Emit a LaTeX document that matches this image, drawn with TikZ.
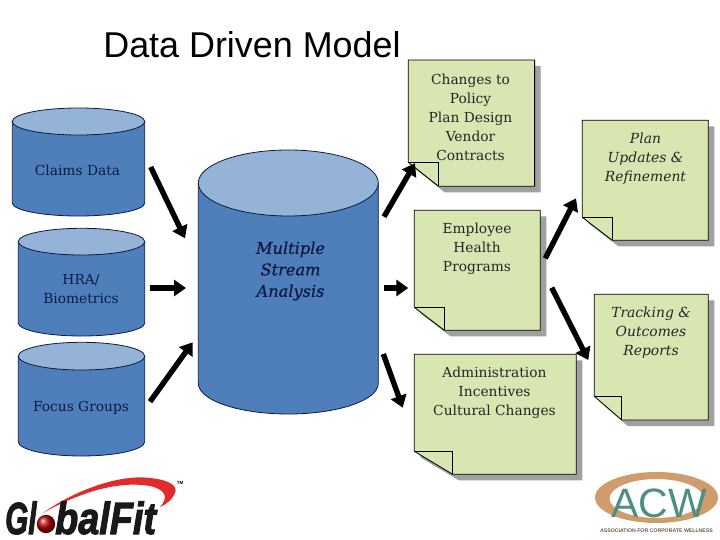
\documentclass[tikz,border=0pt]{standalone}
\usepackage{fontspec}
\setmainfont{DejaVu Serif}
\newfontfamily\titlefont{Liberation Sans}
\newfontfamily\streamfont[ItalicFeatures={FakeBold=0.6}]{DejaVu Serif}
\newfontfamily\logofont[FakeBold=2.5]{Liberation Sans Bold Italic}
\usetikzlibrary{arrows.meta}
\definecolor{cylbody}{HTML}{4F7FBA}
\definecolor{cyltop}{HTML}{95B3D7}
\definecolor{cylline}{HTML}{0B1A45}
\definecolor{notefill}{HTML}{D8E6B2}
\definecolor{noteshadow}{HTML}{A0A0A0}
\definecolor{swoosh}{HTML}{E12B2B}
\definecolor{acwtan}{HTML}{CF9C6C}
\definecolor{acwteal}{HTML}{4E8F80}
\definecolor{acwsmall}{HTML}{6E5A48}
\tikzset{
  x=1pt,y=-1pt,
  flow/.style={line width=5.4pt,-{Triangle[length=12pt,width=16pt]},black},
  labeltext/.style={align=center,font=\fontsize{13.8}{19}\selectfont,inner sep=0pt,text=black!85},
  cyltext/.style={labeltext,text=cylline},
  cylsurface/.style={draw=cylline,line width=0.8pt},
  notesurface/.style={draw=black,line width=0.8pt,fill=notefill},
  logotext/.style={font=\logofont\fontsize{28}{28}\selectfont,inner sep=0pt,anchor=base west,text=black!90},
}
% x0 x1 ytop ellbottom sidebottom bottom
\newcommand{\cylshape}[6]{%
  \pgfmathsetmacro{\cx}{(#1+#2)/2}%
  \pgfmathsetmacro{\rx}{(#2-#1)/2}%
  \pgfmathsetmacro{\ky}{0.5523*(#6-#5)}%
  \pgfmathsetmacro{\kx}{0.5523*\rx}%
  \pgfmathsetmacro{\cy}{(#3+#4)/2}%
  \pgfmathsetmacro{\ry}{(#4-#3)/2}%
  \draw[cylsurface,fill=cylbody] (#1,\cy) -- (#1,#5)
    .. controls (#1,#5+\ky) and (\cx-\kx,#6) .. (\cx,#6)
    .. controls (\cx+\kx,#6) and (#2,#5+\ky) .. (#2,#5) -- (#2,\cy) -- cycle;
  \draw[cylsurface,fill=cyltop] (\cx,\cy) ellipse[x radius=\rx pt,y radius=\ry pt];
}
% x0 y0 x1 y1 foldx foldy
\newcommand{\noteshape}[6]{%
  \fill[noteshadow] (#1+6,#2+6) -- (#3+6,#2+6) -- (#3+6,#4+6) -- (#5+6,#4+6) -- (#1+6,#6+6) -- cycle;
  \draw[notesurface] (#1,#2) -- (#3,#2) -- (#3,#4) -- (#5,#4) -- (#1,#6) -- cycle;
  \draw[black,line width=0.8pt] (#1,#6) -- (#5,#6) -- (#5,#4);
}
\begin{document}
\begin{tikzpicture}
\useasboundingbox[fill=white] (0,0) rectangle (720,540);

\node[font=\titlefont\fontsize{35.9}{40}\selectfont,inner sep=0pt] (title) at (252,45) {Data Driven Model};

\cylshape{12.3}{144.7}{108}{135}{203}{216}
\cylshape{18.3}{144.7}{228.3}{255}{323}{336}
\cylshape{18.3}{144.7}{342.3}{370}{441.7}{456}
\cylshape{198.3}{378.3}{150}{216}{383.3}{414}

\node[cyltext] (claims) at (77.5,170) {Claims Data};
\node[cyltext] (hra) at (81,289) {HRA/\\Biometrics};
\node[cyltext] (focus) at (81,408) {Focus Groups};
\node[cyltext,font=\streamfont\itshape\fontsize{16.2}{21.5}\selectfont] (stream) at (290.5,271) {Multiple\\Stream\\Analysis};

\noteshape{408.3}{60}{534.6}{186.3}{438.6}{162.3}
\noteshape{414.3}{210.3}{540.3}{330.3}{444.3}{307.3}
\noteshape{582.3}{120.3}{708.3}{240.3}{612.3}{217.3}
\noteshape{594.3}{294.3}{708.3}{420}{621.7}{396.3}
\noteshape{414.3}{354.3}{576.3}{474.3}{452.7}{451.3}

\node[labeltext] (changes) at (470.5,117) {Changes to\\Policy\\Plan Design\\Vendor\\Contracts};
\node[labeltext] (employee) at (477,249) {Employee\\Health\\Programs};
\node[labeltext,font=\fontsize{13.9}{19}\selectfont\itshape] (planup) at (645.5,158.5) {Plan\\Updates \&\\Refinement};
\node[labeltext,font=\fontsize{13.9}{19}\selectfont\itshape] (tracking) at (651,332.5) {Tracking \&\\Outcomes\\Reports};
\node[labeltext] (admin) at (494.5,393) {Administration\\Incentives\\Cultural Changes};

\coordinate (a1s) at (150.7,167);   \coordinate (a1e) at (185,238.3);
\coordinate (a2s) at (150,288);     \coordinate (a2e) at (186,288);
\coordinate (a3s) at (150,401.7);   \coordinate (a3e) at (192.7,342.3);
\coordinate (a4s) at (384,216.7);   \coordinate (a4e) at (415,163.3);
\coordinate (a5s) at (384,288);     \coordinate (a5e) at (408.3,288);
\coordinate (a6s) at (383.3,354);   \coordinate (a6e) at (402.7,407.7);
\coordinate (a7s) at (545.3,258.3); \coordinate (a7e) at (576,198.3);
\coordinate (a8s) at (551.7,287.7); \coordinate (a8e) at (588.3,360);
\foreach \n in {1,...,8} {\draw[flow] (a\n s) -- (a\n e);}

% GlobalFit logo
\fill[swoosh] (43,513) .. controls (75,490) and (120,474) .. (150,478)
  .. controls (170,480) and (178,486) .. (175,493)
  .. controls (173,499) and (167,504) .. (160,507)
  .. controls (168,498) and (167,490) .. (150,486)
  .. controls (115,480) and (75,495) .. (43,513) -- cycle;
\node[logotext] (gl) at (5,534) {\scalebox{1.06}[1.607]{Gl}};
\node[logotext] (balfit) at (55,534) {\scalebox{1.35}[1.607]{balFit}};
\shade[ball color=red!70!black] (46,524) circle[radius=9.2pt];
\node[font=\titlefont\bfseries\fontsize{4.5}{5}\selectfont,inner sep=0pt] (tm) at (180,483) {TM};

% ACW logo
\fill[acwtan,even odd rule] (656.5,497.5) ellipse[x radius=61.5pt,y radius=25.5pt]
  (656.5,498.5) ellipse[x radius=47pt,y radius=19.5pt];
\node[font=\titlefont\fontsize{41}{41}\selectfont,inner sep=0pt,anchor=base,text=acwteal] (acw) at (659,517) {ACW};
\node[font=\titlefont\bfseries\fontsize{5.2}{6}\selectfont,inner sep=0pt,text=acwsmall] (acwname) at (656.5,530.5) {ASSOCIATION FOR CORPORATE WELLNESS};
\end{tikzpicture}
\end{document}
